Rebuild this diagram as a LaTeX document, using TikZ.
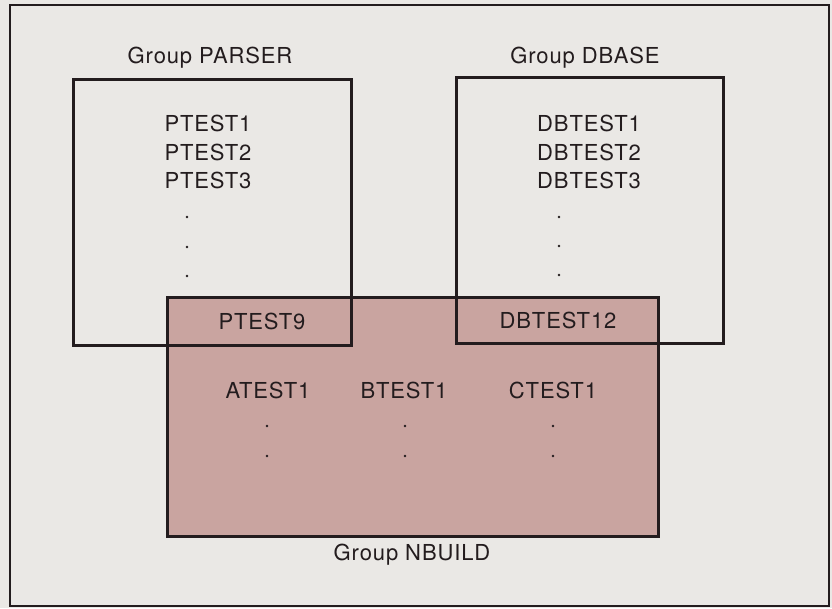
\documentclass[tikz,border=0pt]{standalone}
\usepackage{fontspec}
\setmainfont{TeX Gyre Heros}[LetterSpace=4]
\definecolor{paper}{HTML}{EAE8E5}
\definecolor{ink}{HTML}{231C1E}
\definecolor{rose}{HTML}{C9A4A0}
\begin{document}
\begin{tikzpicture}[x=1pt,y=-1pt,
  lbl/.style={font=\fontsize{22}{26}\selectfont, text=ink, inner sep=0pt, anchor=center},
  dotmark/.style={circle, fill=ink, inner sep=0pt, minimum size=2.6pt},
  grp/.style={draw=ink, line width=3pt},
]
\fill[paper] (0,0) rectangle (832,608);
\useasboundingbox (0,0) rectangle (832,608);
\draw[ink, line width=2.4pt] (10,5) rectangle (829,606);

% NBUILD fill
\fill[rose] (167,297) rectangle (658,536);
% group boxes
\draw[grp] (73,79) rectangle (351,345);
\draw[grp] (456,77) rectangle (723,343);
\draw[grp] (167,297) rectangle (658,536);

% titles
\node[lbl] (tparser) at (210,58) {Group PARSER};
\node[lbl] (tdbase) at (585,58) {Group DBASE};
\node[lbl] (tnbuild) at (412,555) {Group NBUILD};

% PARSER members
\node[lbl] (p1) at (208,123) {PTEST1};
\node[lbl] (p2) at (208,152) {PTEST2};
\node[lbl] (p3) at (208,180) {PTEST3};
\node[dotmark] (pd1) at (187,217) {};
\node[dotmark] (pd2) at (187,247) {};
\node[dotmark] (pd3) at (187,276) {};
\node[lbl] (p9) at (262,321) {PTEST9};

% DBASE members
\node[lbl] (d1) at (589,123) {DBTEST1};
\node[lbl] (d2) at (589,152) {DBTEST2};
\node[lbl] (d3) at (589,180) {DBTEST3};
\node[dotmark] (dd1) at (559,217) {};
\node[dotmark] (dd2) at (559,246) {};
\node[dotmark] (dd3) at (559,275) {};
\node[lbl] (d12) at (558,320) {DBTEST12};

% NBUILD members
\node[lbl] (a1) at (268,390) {ATEST1};
\node[lbl] (b1) at (404,390) {BTEST1};
\node[lbl] (c1) at (553,390) {CTEST1};
\node[dotmark] (ad1) at (267,426) {};
\node[dotmark] (ad2) at (267,456) {};
\node[dotmark] (bd1) at (405,426) {};
\node[dotmark] (bd2) at (405,456) {};
\node[dotmark] (cd1) at (553,426) {};
\node[dotmark] (cd2) at (553,456) {};
\end{tikzpicture}
\end{document}
